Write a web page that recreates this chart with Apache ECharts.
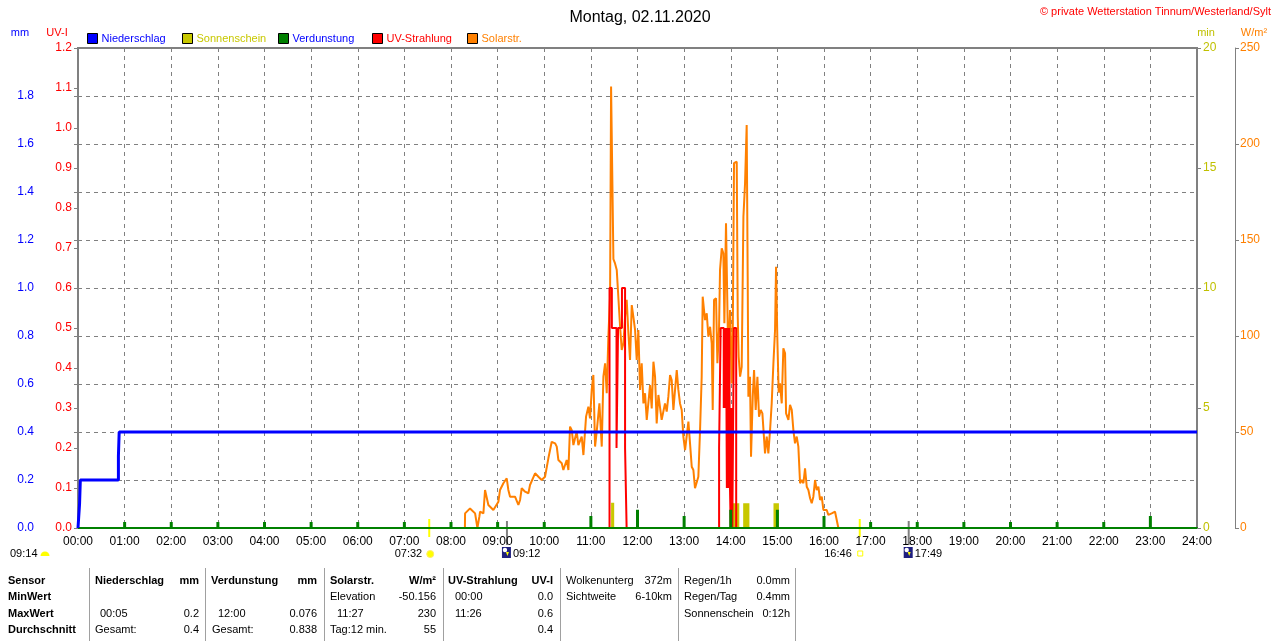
<!DOCTYPE html>
<html><head><meta charset="utf-8">
<script src="https://cdn.jsdelivr.net/npm/echarts@6/dist/echarts.min.js"></script>
<style>html,body{margin:0;padding:0;background:#fff}#c{width:1280px;height:641px}</style>
</head><body><div id="c"></div>
<script>
const hourLabels = ["00:00","01:00","02:00","03:00","04:00","05:00","06:00","07:00","08:00","09:00","10:00","11:00","12:00","13:00","14:00","15:00","16:00","17:00","18:00","19:00","20:00","21:00","22:00","23:00","24:00"];
const mmTickLabels = ["0.0","0.2","0.4","0.6","0.8","1.0","1.2","1.4","1.6","1.8",""];
const uvTickLabels = ["0.0","0.1","0.2","0.3","0.4","0.5","0.6","0.7","0.8","0.9","1.0","1.1","1.2"];
const minTickLabels = ["0","5","10","15","20"];
const wTickLabels = ["0","50","100","150","200","250"];

// minutes since midnight
const precipTimes = [0, 2, 3, 52, 53, 1440];
const precipValues = [0, 0.1, 0.2, 0.3, 0.4, 0.4];

const sunTimes = [0, 686, 690, 841, 851, 856, 864, 895, 902, 1440];
const sunValues = [0, 1.05, 0, 1.03, 0, 1.03, 0, 1.03, 0, 0];

const evapTimes = [60,120,180,240,300,360,420,480,540,600,660,720,780,840,900,960,1020,1080,1140,1200,1260,1320,1380];
const evapValues = [0.025,0.025,0.025,0.025,0.025,0.025,0.025,0.025,0.025,0.025,0.05,0.076,0.05,0.076,0.076,0.05,0.025,0.025,0.025,0.025,0.025,0.025,0.05];

const uvTimes = [0, 684, 687, 693, 695, 700, 704, 706, 825, 827, 831, 832, 833, 834, 835, 836, 837, 838, 839, 840, 841, 842, 844, 847, 1440];
const uvValues = [0, 0.6, 0.5, 0.2, 0.5, 0.6, 0.2, 0, 0.2, 0.5, 0.3, 0.5, 0.3, 0.5, 0.1, 0.5, 0.1, 0.5, 0.1, 0, 0.3, 0, 0.5, 0, 0];

const solarTimes = [0,497.9,498.1,504.5,506.7,511,513,514,516.5,517.4,521.7,523.8,528.1,534.5,541,543.1,547.4,551.7,553.8,556,562.4,566.7,568.9,571,575.3,579.6,581.7,588.2,592.5,596.7,601,605.3,609.6,613.9,616.1,618.2,622.5,624.6,628.9,631.1,633.2,635.4,637.5,641.8,643.9,648.2,650.4,653.8,656.8,658.9,661.1,663.2,665.4,667.5,671,674,676.1,678.3,680.4,682.5,684.7,686,687,688,689,691.1,693.3,695.4,697.6,699.7,701.9,704,706.1,708.3,710.4,712.6,714.7,716.9,719,721.1,723.3,725.4,727.6,729.7,731.9,736.2,738.3,740.5,742.6,744.7,746.9,749,751.1,755.4,757.6,759.7,761.9,764,766.2,768.3,770.5,772.6,774.7,776.9,779,781.2,783.3,785.5,787.6,789.8,791.9,794,796.2,798.3,800.5,802.6,803.9,805.6,806.9,809.1,811.2,813.4,815.5,816.8,818.5,821.1,822.8,824.9,826.2,828.4,830.5,831.8,833.9,836.1,836.9,839.1,841.2,842.5,844.2,846.4,847.7,849,850.2,852,854.1,856.3,858.4,860.5,861.8,862.7,864.8,866.1,868.3,870,872.1,874.3,876.4,878.6,880.7,884.1,886.3,888.4,890.6,892.7,894.9,897,898.3,900,901.7,903.4,905.6,907.7,909.9,911.2,914.2,916.3,918.5,920.6,922.7,924.9,927,929.2,931.3,933.5,935.6,937.8,939.9,942.1,944.2,946.3,948.5,950.6,952.8,954.9,957.1,959.2,963.5,965.6,967.8,969.9,972.1,974.2,976.4,978.5,1440];
const solarValues = [0,0,7.6,10.2,11.1,7.6,6.8,0,5.9,8.5,7.6,19.8,12,9.4,13.7,19.8,23.3,25.9,19.8,16.3,16.3,12,14.6,20.7,18.9,18.1,22.4,28.5,26.7,25,26.7,36.3,44.9,44.1,42.4,35.4,33.7,30.2,35.4,30.2,52.8,51,43.2,50.2,43.2,47.6,38,58,63.2,57.1,71.9,79.7,42.4,50.2,64.9,42.4,78.8,85.8,70.2,99.6,120.5,230,231,229,140,137.8,134.4,133.5,104.8,92.7,96.2,110,118.8,101.4,87.5,116.1,110,103.1,87.5,103.1,71.9,85.8,64.9,70.2,56.3,74.5,62.3,86.6,78.8,54.5,69.3,68.4,56.3,64.9,60.6,68.4,79.7,77.1,61.5,71.9,82.3,71.9,64.9,61.5,47.6,40.6,40.6,55.4,44.1,31.9,30.2,20.7,19.8,26.7,51,78.8,120.5,113.5,108.3,111.8,99.6,104.8,96.2,61.5,118.8,119.6,85.8,103.1,134.4,145.7,143.1,106.6,158.7,157.8,85.8,113.5,75.3,96.2,190,189,190.8,110.1,89.2,78.8,83.9,162.1,179.5,209.9,130.9,68.4,78.8,37.1,68.4,82.3,61.5,78.8,58,61.5,59.7,38.9,47.6,38.9,51,64.9,85.8,103.1,136.1,97.9,70.5,75.3,64.9,93.6,91,59.7,56.3,64.1,61.5,51,44.1,47.6,42.4,23.3,25,23.3,31.1,21.5,19.8,15.5,12.9,16.3,25,19.8,21.5,14.6,16.3,9.4,9.4,6.8,5.9,7.6,6.8,8.5,7.6,0,0];

// sun / moon events (minutes)
const sunriseMin = 452, sunsetMin = 1006, moonA = 552, moonB = 1069;

const zip = (t, v) => t.map((x, i) => [x, v[i]]);
const FONT = "'Liberation Sans', Arial, sans-serif";
const GRAY = '#808080';

const chart = echarts.init(document.getElementById('c'), null, {renderer: 'canvas'});

function legendItem(name, color, left) {
  return {
    data: [{name: name, textStyle: {color: color}}],
    left: left, top: 33, padding: 0, itemWidth: 10, itemHeight: 10, itemGap: 4,
    icon: 'rect', selectedMode: false,
    itemStyle: {borderColor: '#000', borderWidth: 1},
    textStyle: {fontFamily: FONT, fontSize: 11, padding: [0, 0, 0, -1]}
  };
}

const option = {
  animation: false,
  backgroundColor: '#fff',
  title: {text: 'Montag, 02.11.2020', left: 'center', top: 5,
    textStyle: {fontFamily: FONT, fontSize: 16, fontWeight: 'normal', color: '#000'}},
  legend: [
    legendItem('Niederschlag', '#0000ff', 87),
    legendItem('Sonnenschein', '#c8c800', 182),
    legendItem('Verdunstung', '#0000ff', 278),
    legendItem('UV-Strahlung', '#ff0000', 372),
    legendItem('Solarstr.', '#ff8000', 467)
  ],
  grid: {left: 78, right: 83, top: 48, bottom: 113, show: true, borderColor: GRAY, borderWidth: 2, containLabel: false},
  xAxis: {
    type: 'value', min: 0, max: 1440, interval: 60,
    axisLine: {show: true, onZero: false, lineStyle: {color: '#008000', width: 2}},
    axisTick: {show: false},
    axisLabel: {fontFamily: FONT, fontSize: 12, color: '#000', margin: 8,
      formatter: v => hourLabels[Math.round(v / 60)]},
    splitLine: {show: true, lineStyle: {color: GRAY, type: [4, 4], width: 1}}
  },
  yAxis: [
    {type: 'value', position: 'left', offset: 38, min: 0, max: 2, interval: 0.2,
      axisLine: {show: true, lineStyle: {color: GRAY, width: 1}},
      axisTick: {show: true, length: 4, lineStyle: {color: GRAY}},
      axisLabel: {fontFamily: FONT, fontSize: 12, color: '#0000ff', margin: 6,
        formatter: v => mmTickLabels[Math.round(v / 0.2)]},
      splitLine: {show: true, lineStyle: {color: GRAY, type: [4, 4], width: 1}}},
    {type: 'value', position: 'left', offset: 0, min: 0, max: 1.2, interval: 0.1,
      axisLine: {show: true, lineStyle: {color: GRAY, width: 2}},
      axisTick: {show: true, length: 4, lineStyle: {color: GRAY}},
      axisLabel: {fontFamily: FONT, fontSize: 12, color: '#ff0000', margin: 6,
        formatter: v => uvTickLabels[Math.round(v / 0.1)]},
      splitLine: {show: false}},
    {type: 'value', position: 'right', offset: 0, min: 0, max: 20, interval: 5,
      axisLine: {show: true, lineStyle: {color: GRAY, width: 2}},
      axisTick: {show: true, length: 4, lineStyle: {color: GRAY}},
      axisLabel: {fontFamily: FONT, fontSize: 12, color: '#c0c000', margin: 6,
        formatter: v => minTickLabels[Math.round(v / 5)]},
      splitLine: {show: false}},
    {type: 'value', position: 'right', offset: 38, min: 0, max: 250, interval: 50,
      axisLine: {show: true, lineStyle: {color: GRAY, width: 1}},
      axisTick: {show: true, length: 4, lineStyle: {color: GRAY}},
      axisLabel: {fontFamily: FONT, fontSize: 12, color: '#ff8000', margin: 5,
        formatter: v => wTickLabels[Math.round(v / 50)]},
      splitLine: {show: false}}
  ],
  series: [
    {name: 'Sonnenschein', type: 'line', yAxisIndex: 2, step: 'end', symbol: 'none', z: 1,
      color: '#c8c800', itemStyle: {color: '#c8c800'},
      lineStyle: {width: 0, color: '#c8c800'}, areaStyle: {color: '#c8c800', opacity: 1},
      data: zip(sunTimes, sunValues)},
    {name: 'Solarstr.', type: 'line', yAxisIndex: 3, symbol: 'none', z: 3,
      color: '#ff8000', itemStyle: {color: '#ff8000'},
      lineStyle: {width: 2, color: '#ff8000'}, data: zip(solarTimes, solarValues)},
    {name: 'UV-Strahlung', type: 'line', yAxisIndex: 1, step: 'end', symbol: 'none', z: 4,
      color: '#ff0000', itemStyle: {color: '#ff0000'},
      lineStyle: {width: 2, color: '#ff0000'}, data: zip(uvTimes, uvValues)},
    {name: 'Verdunstung', type: 'bar', yAxisIndex: 0, barWidth: 3, z: 6,
      itemStyle: {color: '#008000'}, data: zip(evapTimes, evapValues),
      markLine: {silent: true, symbol: 'none', label: {show: false}, animation: false,
        lineStyle: {color: '#008000', width: 2, type: 'solid'}, data: [{yAxis: 0}]}},
    {name: 'Niederschlag', type: 'line', yAxisIndex: 0, step: 'end', symbol: 'none', z: 5,
      color: '#0000ff', itemStyle: {color: '#0000ff'},
      lineStyle: {width: 3, color: '#0000ff'}, data: zip(precipTimes, precipValues)}
  ]
};
chart.setOption(option);

// decorations: axis names, copyright, stats table, sun/moon markers
const px = m => chart.convertToPixel({xAxisIndex: 0}, m);
const g = [];
function txt(x, y, s, color, opts) {
  opts = opts || {};
  g.push({type: 'text', x: x, y: y, silent: true,
    style: {text: s, fill: color || '#000', font: (opts.bold ? 'bold ' : '') + (opts.size || 11) + 'px ' + FONT,
      textAlign: opts.align || 'left', textVerticalAlign: 'middle'}});
}
function line(x1, y1, x2, y2, color, w) {
  g.push({type: 'line', silent: true, shape: {x1: x1, y1: y1, x2: x2, y2: y2},
    style: {stroke: color, lineWidth: w || 1}});
}
txt(20, 33, 'mm', '#0000ff', {align: 'center'});
txt(57, 33, 'UV-I', '#ff0000', {align: 'center'});
txt(1206, 33, 'min', '#c0c000', {align: 'center'});
txt(1254, 33, 'W/m²', '#ff8000', {align: 'center'});
txt(1271, 12, '© private Wetterstation Tinnum/Westerland/Sylt', '#ff0000', {align: 'right'});

// sun / moon markers
const xr = px(sunriseMin), xs = px(sunsetMin), xm1 = px(moonA), xm2 = px(moonB);
line(xr, 519, xr, 537, '#ffff00', 2);
line(xs, 519, xs, 537, '#ffff00', 2);
line(xm1, 521, xm1, 545, GRAY, 2);
line(xm2, 521, xm2, 545, GRAY, 2);
txt(10, 554, '09:14', '#000');
g.push({type: 'sector', silent: true, shape: {cx: 45, cy: 556, r: 4.5, startAngle: Math.PI, endAngle: 2 * Math.PI}, style: {fill: '#ffff00'}});
txt(xr - 7, 554, '07:32', '#000', {align: 'right'});
g.push({type: 'circle', silent: true, shape: {cx: xr + 1, cy: 554, r: 3.5}, style: {fill: '#ffff00', stroke: '#ffee66', lineWidth: 1}});
txt(xs - 8, 554, '16:46', '#000', {align: 'right'});
g.push({type: 'rect', silent: true, shape: {x: xs - 2, y: 551, width: 5, height: 5}, style: {fill: '#fff', stroke: '#ffff00', lineWidth: 1}});
[[xm1, '09:12'], [xm2, '17:49']].forEach(([x, s]) => {
  g.push({type: 'rect', silent: true, shape: {x: x - 5, y: 547, width: 9, height: 11}, style: {fill: '#202080'}});
  g.push({type: 'circle', silent: true, shape: {cx: x - 2, cy: 550, r: 2.2}, style: {fill: '#ffffff'}});
  g.push({type: 'polygon', silent: true, shape: {points: [[x - 1, 552], [x + 2, 552], [x + 0.5, 556]]}, style: {fill: '#ffff00'}});
  txt(x + 6, 554, s, '#000');
});

// stats table
const rows = [581, 597, 614, 630];
[89, 205, 324, 443, 560, 678, 795].forEach(x => line(x + 0.5, 568, x + 0.5, 641, '#a0a0a0', 1));
txt(8, rows[0], 'Sensor', '#000', {bold: true});
txt(8, rows[1], 'MinWert', '#000', {bold: true});
txt(8, rows[2], 'MaxWert', '#000', {bold: true});
txt(8, rows[3], 'Durchschnitt', '#000', {bold: true});
txt(95, rows[0], 'Niederschlag', '#000', {bold: true}); txt(199, rows[0], 'mm', '#000', {bold: true, align: 'right'});
txt(100, rows[2], '00:05'); txt(199, rows[2], '0.2', '#000', {align: 'right'});
txt(95, rows[3], 'Gesamt:'); txt(199, rows[3], '0.4', '#000', {align: 'right'});
txt(211, rows[0], 'Verdunstung', '#000', {bold: true}); txt(317, rows[0], 'mm', '#000', {bold: true, align: 'right'});
txt(218, rows[2], '12:00'); txt(317, rows[2], '0.076', '#000', {align: 'right'});
txt(212, rows[3], 'Gesamt:'); txt(317, rows[3], '0.838', '#000', {align: 'right'});
txt(330, rows[0], 'Solarstr.', '#000', {bold: true}); txt(436, rows[0], 'W/m²', '#000', {bold: true, align: 'right'});
txt(330, rows[1], 'Elevation'); txt(436, rows[1], '-50.156', '#000', {align: 'right'});
txt(337, rows[2], '11:27'); txt(436, rows[2], '230', '#000', {align: 'right'});
txt(330, rows[3], 'Tag:12 min.'); txt(436, rows[3], '55', '#000', {align: 'right'});
txt(448, rows[0], 'UV-Strahlung', '#000', {bold: true}); txt(553, rows[0], 'UV-I', '#000', {bold: true, align: 'right'});
txt(455, rows[1], '00:00'); txt(553, rows[1], '0.0', '#000', {align: 'right'});
txt(455, rows[2], '11:26'); txt(553, rows[2], '0.6', '#000', {align: 'right'});
txt(553, rows[3], '0.4', '#000', {align: 'right'});
txt(566, rows[0], 'Wolkenunterg'); txt(672, rows[0], '372m', '#000', {align: 'right'});
txt(566, rows[1], 'Sichtweite'); txt(672, rows[1], '6-10km', '#000', {align: 'right'});
txt(684, rows[0], 'Regen/1h'); txt(790, rows[0], '0.0mm', '#000', {align: 'right'});
txt(684, rows[1], 'Regen/Tag'); txt(790, rows[1], '0.4mm', '#000', {align: 'right'});
txt(684, rows[2], 'Sonnenschein'); txt(790, rows[2], '0:12h', '#000', {align: 'right'});

chart.setOption({graphic: {elements: g}});
</script>
</body></html>
